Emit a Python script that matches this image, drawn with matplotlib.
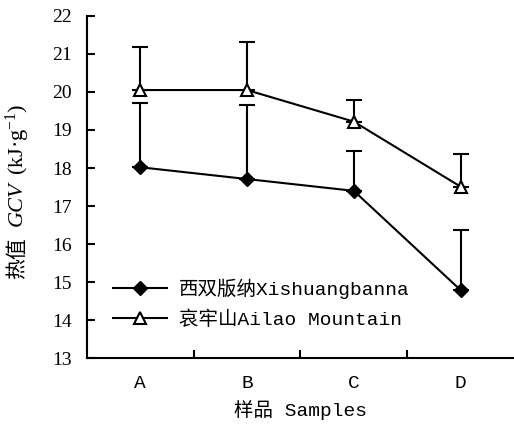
import numpy as np
import matplotlib
matplotlib.use('Agg')
import matplotlib.pyplot as plt

plt.rcParams['font.family'] = ['Liberation Serif', 'Noto Sans CJK SC']
plt.rcParams['mathtext.fontset'] = 'custom'
plt.rcParams['mathtext.rm'] = 'Liberation Serif'
plt.rcParams['mathtext.it'] = 'Liberation Serif:italic'

# 样品与热值数据
samples = ['A', 'B', 'C', 'D']
gcv_xsbn = [18.02, 17.71, 17.40, 14.79]
err_xsbn = [1.68, 1.95, 1.06, 1.58]
gcv_ailao = [20.05, 20.05, 19.22, 17.51]
err_ailao = [1.12, 1.27, 0.57, 0.85]

lab_xsbn = '西双版纳Xishuangbanna'
lab_ailao = '哀牢山Ailao Mountain'

mono = ['Liberation Mono', 'Noto Sans CJK SC']

x = np.arange(1, len(samples) + 1)

fig = plt.figure(figsize=(5.14, 4.29), dpi=100)
ax = fig.add_axes([0.169, 0.165, 0.831, 0.798])

# 只画向上的误差线
ax.errorbar(x, gcv_xsbn, yerr=[np.zeros(4), err_xsbn], fmt='none', ecolor='k',
            capsize=5.5, capthick=1.5, elinewidth=1.5)
ax.errorbar(x, gcv_ailao, yerr=[np.zeros(4), err_ailao], fmt='none', ecolor='k',
            capsize=5.5, capthick=1.5, elinewidth=1.5)
ax.plot(x, gcv_xsbn, color='k', lw=1.5, marker='D', ms=7, mfc='k', mec='k',
        label=lab_xsbn)
ax.plot(x, gcv_ailao, color='k', lw=1.5, marker='^', ms=9, mfc='white',
        mec='k', mew=1.5, label=lab_ailao)

ax.set_xlim(0.5, 4.5)
ax.set_ylim(13, 22)
ax.set_yticks(np.arange(13, 23, 1))
ax.tick_params(axis='y', direction='in', length=6, width=1.5, pad=11, labelsize=14)

# 分隔刻度放在样品之间，样品名用次刻度标注
ax.set_xticks([1.5, 2.5, 3.5])
ax.set_xticklabels([])
ax.tick_params(axis='x', which='major', direction='in', length=6, width=1.5)
ax.set_xticks(x, minor=True)
ax.set_xticklabels(samples, minor=True, family=mono, fontsize=14)
ax.tick_params(axis='x', which='minor', length=0, pad=12)

for s in ['top', 'right']:
    ax.spines[s].set_visible(False)
for s in ['left', 'bottom']:
    ax.spines[s].set_linewidth(1.5)

ax.set_xlabel('样品 Samples', family=mono, fontsize=14, labelpad=6)

leg = ax.legend(loc='lower left', bbox_to_anchor=(0.02, 0.035), frameon=False,
                handlelength=2.8, handletextpad=0.6, labelspacing=0.6,
                prop={'family': mono, 'size': 14})

# 纵轴标题分三段：中文、斜体 GCV、单位（像素位置从下往上）
H = fig.bbox.height
xl = 17 / fig.bbox.width
fig.text(xl, (H - 258) / H, '热值', rotation=90, ha='center', va='center',
         fontsize=15, family=['Noto Sans CJK SC'])
fig.text(xl, (H - 204) / H, 'GCV', rotation=90, ha='center', va='center',
         fontsize=16, family=['Liberation Serif'], style='italic')
fig.text(xl + 1 / fig.bbox.width, (H - 139) / H, '(kJ·g$^{-1}$)', rotation=90,
         ha='center', va='center', fontsize=16, family=['Liberation Serif'])

fig.savefig('out.png', dpi=100)
